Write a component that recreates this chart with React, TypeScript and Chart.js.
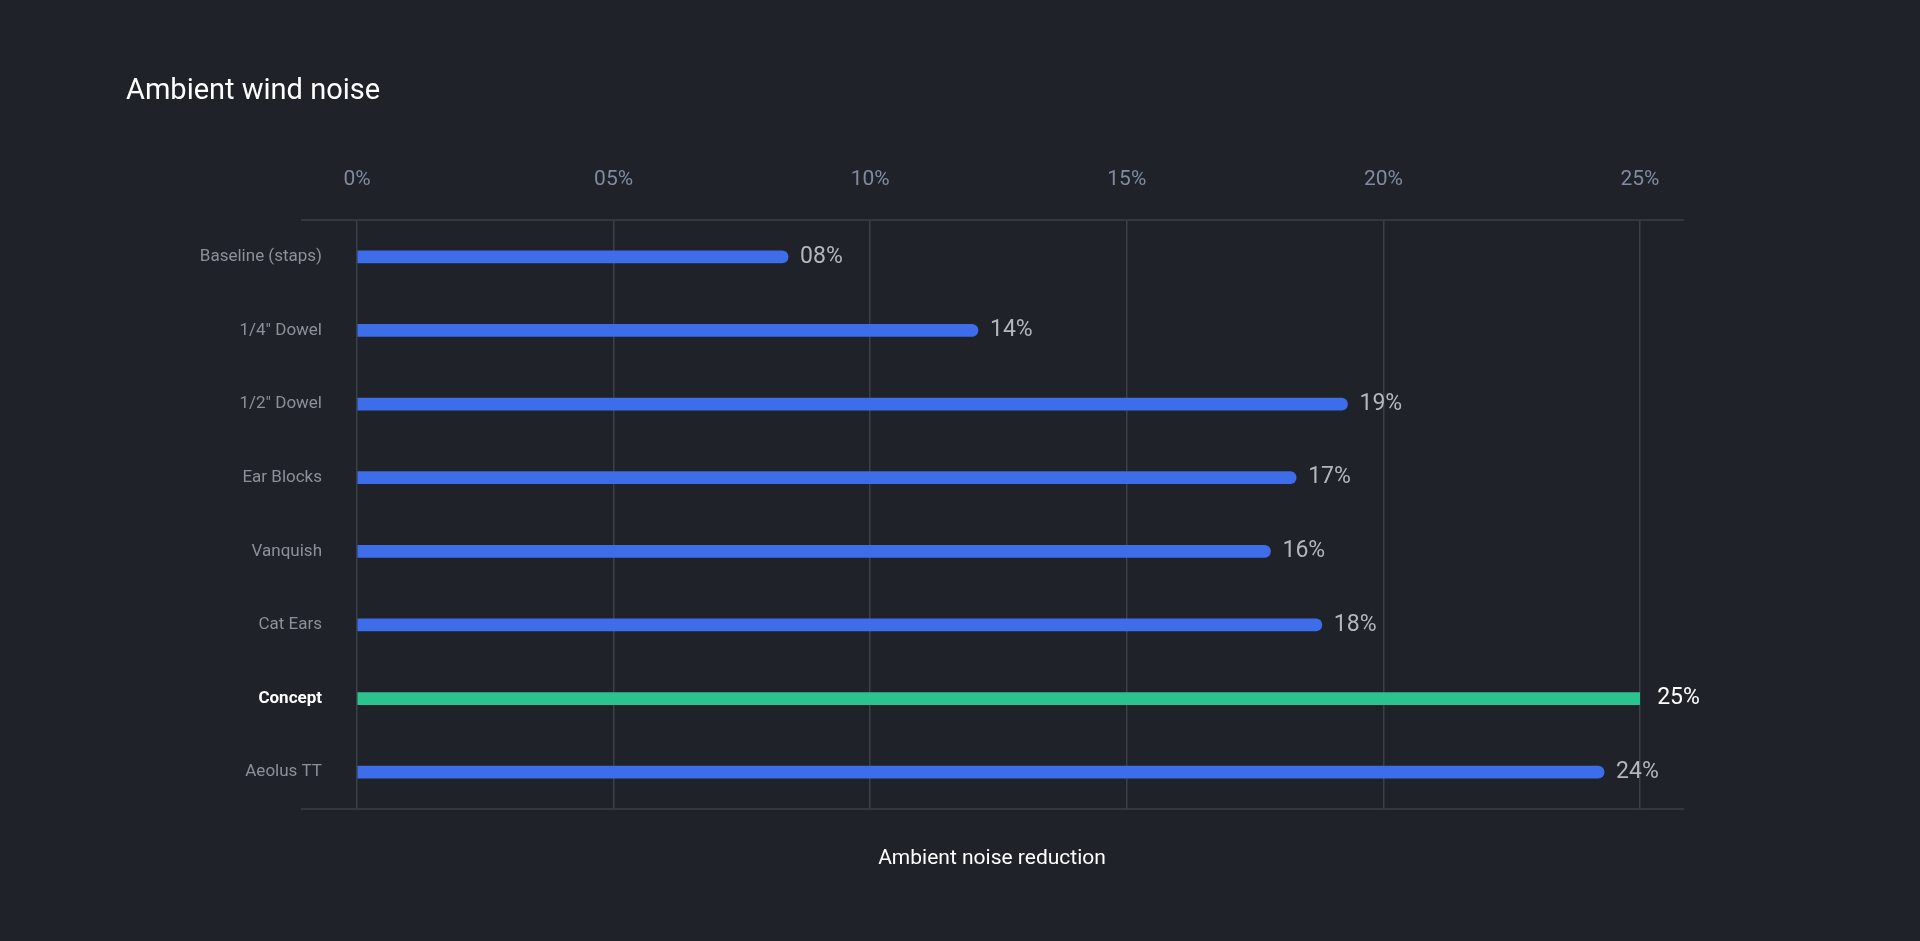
import React, { useEffect, useRef } from "react";
import { Chart, registerables } from "chart.js";
Chart.register(...registerables);

const categories = ["Baseline (staps)", "1/4\u2033 Dowel", "1/2\u2033 Dowel", "Ear Blocks", "Vanquish", "Cat Ears", "Concept", "Aeolus TT"];
const values = [8.4, 12.1, 19.3, 18.3, 17.8, 18.8, 25.1, 24.3];
const valueLabels = ["08%", "14%", "19%", "17%", "16%", "18%", "25%", "24%"];
const tickLabels = ["0%", "05%", "10%", "15%", "20%", "25%"];
const highlight = "Concept";

export default function App() {
  const ref = useRef<HTMLCanvasElement>(null);
  useEffect(() => {
    const font = "Roboto, 'Noto Sans', sans-serif";
    const deco = {
      id: "deco",
      afterDraw(chart: any) {
        const ctx = chart.ctx;
        const a = chart.chartArea;
        ctx.save();
        ctx.strokeStyle = "#3b3f46";
        ctx.lineWidth = 1.5;
        [a.top, a.bottom].forEach((y: number) => {
          ctx.beginPath(); ctx.moveTo(301, y); ctx.lineTo(1684, y); ctx.stroke();
        });
        ctx.fillStyle = "#ffffff";
        ctx.font = "29px " + font;
        ctx.textBaseline = "middle";
        ctx.textAlign = "left";
        ctx.fillText("Ambient wind noise", 126, 92);
        ctx.font = "21px " + font;
        ctx.textAlign = "center";
        ctx.fillText("Ambient noise reduction", 992, 859);
        const meta = chart.getDatasetMeta(0);
        ctx.textAlign = "left";
        meta.data.forEach((bar: any, i: number) => {
          const hl = categories[i] === highlight;
          ctx.fillStyle = hl ? "#ffffff" : "#b3b6bb";
          ctx.font = "23px " + font;
          ctx.fillText(valueLabels[i], bar.x + 12, bar.y);
        });
        ctx.restore();
      },
    };
    const chart = new Chart(ref.current!, {
      type: "bar",
      data: {
        labels: categories,
        datasets: [{
          data: values,
          backgroundColor: categories.map((c) => (c === highlight ? "#2bc48f" : "#3d6de8")),
          barThickness: categories.map((c) => (c === highlight ? 15 : 12)) as any,
          borderRadius: 7,
          borderSkipped: "start",
        }],
      },
      options: {
        indexAxis: "y",
        animation: false,
        responsive: false,
        layout: { padding: { top: 140, right: 280, bottom: 132, left: 0 } },
        plugins: { legend: { display: false }, tooltip: { enabled: false } },
        scales: {
          x: {
            position: "top",
            min: 0, max: 25,
            afterFit: (s: any) => { s.height = 80; },
            afterBuildTicks: (s: any) => { s.ticks = [0, 5, 10, 15, 20, 25].map((v) => ({ value: v })); },
            ticks: {
              color: "#7f8ba0",
              font: { size: 21, family: font },
              padding: 28,
              callback: (_v: any, i: number) => tickLabels[i],
              maxRotation: 0,
            },
            grid: { color: "#3b3f46", lineWidth: 1.5, drawTicks: false },
            border: { display: false },
          },
          y: {
            afterFit: (s: any) => { s.width = 357; },
            ticks: {
              padding: 35,
              color: (c: any) => (categories[c.index] === highlight ? "#ffffff" : "#8c9099"),
              font: (c: any) => ({ size: 17, family: font, weight: categories[c.index] === highlight ? "bold" : "normal" }),
            },
            grid: { display: false, drawTicks: false },
            border: { display: false },
          },
        },
      },
      plugins: [deco],
    } as any);
    return () => chart.destroy();
  }, []);
  return (
    <div style={{ position: "fixed", inset: 0, background: "#1f2228" }}>
      <canvas ref={ref} width={1920} height={941} style={{ display: "block" }} />
    </div>
  );
}
